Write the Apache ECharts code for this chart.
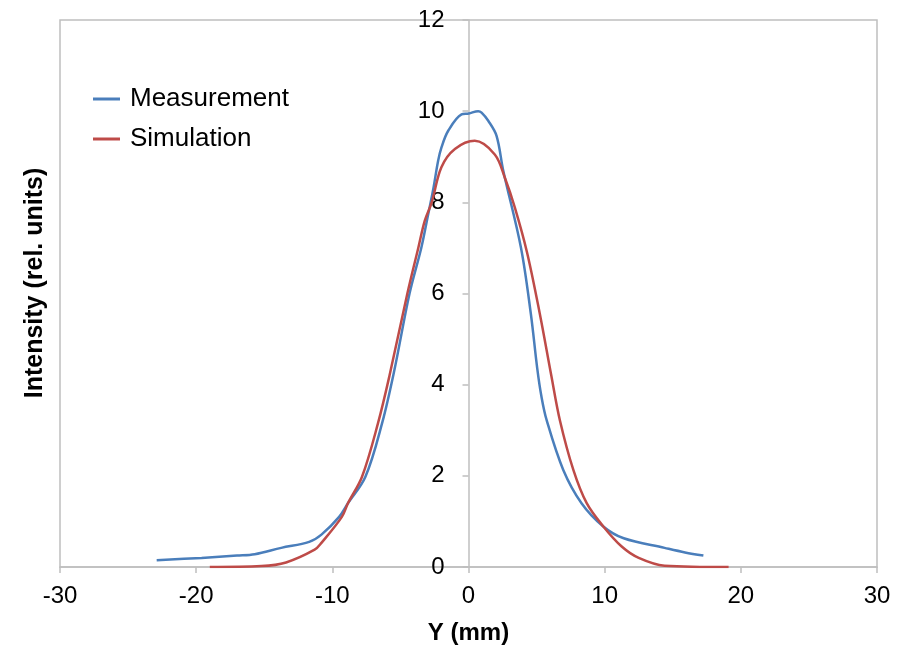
<!DOCTYPE html>
<html><head><meta charset="utf-8">
<script src="https://cdn.jsdelivr.net/npm/echarts@6/dist/echarts.min.js"></script>
<style>html,body{margin:0;padding:0;background:#fff}#c{width:902px;height:646px}</style>
</head><body><div id="c"></div>
<script>
const seriesNames = ['Measurement', 'Simulation'];
const measurement = [
  [-22.9,0.15],[-19.6,0.2],[-17,0.25],[-15.7,0.28],[-13.75,0.42],[-11.7,0.55],[-10.8,0.71],
  [-9.5,1.10],[-8.85,1.40],[-7.57,1.98],[-6.35,3.15],[-5.45,4.31],[-4.33,6.0],[-3.46,7.01],
  [-2.96,7.74],[-2.6,8.27],[-2.23,8.91],[-1.99,9.2],[-1.49,9.57],[-0.51,9.93],[0.02,9.95],
  [0.71,10.0],[0.96,9.97],[1.45,9.79],[2.06,9.46],[2.55,8.7],[3.85,7.01],[4.58,5.55],
  [5.05,4.35],[5.35,3.75],[5.74,3.22],[6.96,2.13],[8.3,1.40],[9.9,0.89],[11.4,0.63],[14.4,0.42],
  [15.9,0.32],[17.25,0.25]
];
const simulation = [
  [-19,0],[-15.2,0.02],[-13.4,0.1],[-11.3,0.38],[-10.8,0.53],[-9.3,1.1],[-8.85,1.40],
  [-7.82,1.98],[-6.65,3.15],[-5.8,4.2],[-4.49,6.0],[-3.68,7.01],[-3.21,7.6],[-2.7,8.0],
  [-1.99,8.77],[-1.0,9.17],[0.46,9.35],[1.93,9.05],[2.67,8.54],[3.4,7.89],[4.3,6.9],
  [5.24,5.55],[6.08,4.2],[6.71,3.22],[7.7,2.13],[8.68,1.40],[9.9,0.89],[11.25,0.45],
  [12.5,0.2],[14.4,0.03],[19.1,0]
];
const xTicks = [-30, 30, 10];
const yTicks = [0, 12, 2];
const xTitle = 'Y (mm)';
const yTitle = 'Intensity (rel. units)';

const FONT = '"Liberation Sans", Arial, sans-serif';
const axisGray = '#bfbfbf';
const W = 902, GL = 60, GR = 25;
const chart = echarts.init(document.getElementById('c'));
const plotW = W - GL - GR;
const yOffset = -plotW * (0 - xTicks[0]) / (xTicks[1] - xTicks[0]);
chart.setOption({
  animation: false,
  backgroundColor: '#fff',
  grid: { left: GL, right: GR, top: 20, bottom: 79, show: true, borderColor: axisGray, borderWidth: 1.5,
          containLabel: false, outerBoundsMode: 'none' },
  legend: {
    orient: 'vertical', left: 93, top: 86, itemGap: 14, padding: 0,
    itemWidth: 27, itemHeight: 3, icon: 'rect',
    textStyle: { fontFamily: FONT, fontSize: 26, color: '#000', padding: [0,0,0,5] },
    data: seriesNames
  },
  xAxis: {
    type: 'value', min: xTicks[0], max: xTicks[1], interval: xTicks[2],
    name: xTitle, nameLocation: 'middle', nameGap: 54,
    nameTextStyle: { fontFamily: FONT, fontSize: 24, fontWeight: 'bold', color: '#000' },
    axisLine: { onZero: false, lineStyle: { color: axisGray, width: 1.5 } },
    axisTick: { show: true, length: 6, lineStyle: { color: axisGray, width: 1.5 } },
    axisLabel: { fontFamily: FONT, fontSize: 24, color: '#000', margin: 17 },
    splitLine: { show: false }
  },
  yAxis: {
    type: 'value', min: yTicks[0], max: yTicks[1], interval: yTicks[2],
    position: 'left', offset: yOffset,
    axisLine: { show: true, onZero: false, lineStyle: { color: axisGray, width: 1.5 } },
    axisTick: { show: true, length: 6, lineStyle: { color: axisGray, width: 1.5 } },
    axisLabel: { fontFamily: FONT, fontSize: 24, color: '#000', margin: 24 },
    splitLine: { show: false }
  },
  graphic: [{
    type: 'text', x: 35, y: 283, rotation: Math.PI / 2,
    style: { text: yTitle, fontFamily: FONT, fontSize: 25, fontWeight: 'bold', fill: '#000',
             align: 'center', verticalAlign: 'middle' }
  }],
  series: [
    { name: seriesNames[0], type: 'line', data: measurement, smooth: 0.35, symbol: 'none',
      lineStyle: { color: '#4a7ebb', width: 2.5 }, itemStyle: { color: '#4a7ebb' } },
    { name: seriesNames[1], type: 'line', data: simulation, smooth: 0.35, symbol: 'none',
      lineStyle: { color: '#be4b48', width: 2.5 }, itemStyle: { color: '#be4b48' } }
  ]
});
</script></body></html>
